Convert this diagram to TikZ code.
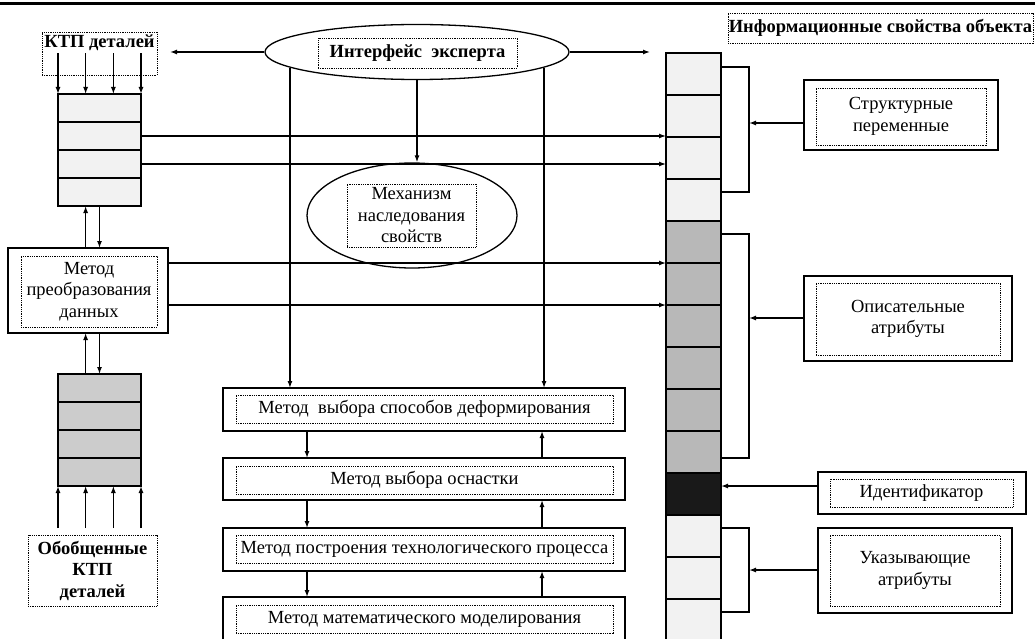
\documentclass[tikz,border=0pt]{standalone}
\usepackage{fontspec}
\setmainfont{Liberation Serif}
\usetikzlibrary{shapes.geometric,arrows.meta}

\definecolor{light}{gray}{0.95}
\definecolor{midgray}{gray}{0.80}
\definecolor{darkgray}{gray}{0.72}

\begin{document}
\begin{tikzpicture}[x=1pt,y=-1pt,line width=1.3pt,>={Latex[length=7pt,width=5pt]}]
\tikzstyle{every node}=[font=\fontsize{18.5}{21.5}\selectfont]
\tikzstyle{bold}=[font=\fontsize{18.5}{21.5}\selectfont\bfseries]
\tikzstyle{frame}=[draw, line width=1.6pt, inner sep=0pt, outer sep=0pt]
\tikzstyle{dots}=[draw, line width=0.9pt, dash pattern=on 0.9pt off 0.9pt, align=center, inner sep=0pt, outer sep=0pt]
\tikzstyle{oval}=[draw, ellipse, line width=1.3pt, inner sep=0pt]
\tikzstyle{cell}=[draw, inner sep=0pt, outer sep=0pt, minimum width=83pt, minimum height=28pt]
\tikzstyle{slot}=[draw, inner sep=0pt, outer sep=0pt, minimum width=55pt, minimum height=42pt]

\useasboundingbox (0,0) rectangle (1035,639);
\clip (0,0) rectangle (1035,639);
\fill (0,2) rectangle (1035,5.5);

% left column
\node[dots, minimum width=115pt, minimum height=43pt] (ktpf) at (99.5,53.5) {};
\node[bold, inner sep=0pt] (ktp) at (99.5,43) {КТП деталей};

\node[cell, fill=light] (a1) at (99.5,108) {};
\node[cell, fill=light] (a2) at (99.5,136) {};
\node[cell, fill=light] (a3) at (99.5,164) {};
\node[cell, fill=light] (a4) at (99.5,192) {};

\node[frame, minimum width=160pt, minimum height=85pt] (pm) at (88,290.5) {};
\node[dots, minimum width=136pt, minimum height=71pt] (pmt) at (89,291.5) {Метод\\преобразования\\данных};

\node[cell, fill=midgray] (b1) at (99.5,388) {};
\node[cell, fill=midgray] (b2) at (99.5,416) {};
\node[cell, fill=midgray] (b3) at (99.5,444) {};
\node[cell, fill=midgray] (b4) at (99.5,472) {};

\node[dots, bold, minimum width=129pt, minimum height=71pt] (gen) at (92.5,570.5) {Обобщенные\\КТП\\деталей};

% middle column
\node[oval, minimum width=304pt, minimum height=55pt] (ie) at (417,52) {};
\node[dots, bold, minimum width=199pt, minimum height=30pt] (iet) at (417.5,53) {Интерфейс\ \ эксперта};

\node[oval, minimum width=210pt, minimum height=105pt] (me) at (412,215.5) {};
\node[dots, minimum width=129pt, minimum height=63pt] (met) at (411.5,215.5) {Механизм\\наследования\\свойств};

\node[frame, minimum width=402pt, minimum height=43pt] (m1) at (424,409.5) {};
\node[dots, minimum width=377pt, minimum height=28pt] (n1) at (424.5,409) {Метод\ \ выбора способов деформирования};
\node[frame, minimum width=402pt, minimum height=42pt] (m2) at (424,479) {};
\node[dots, minimum width=377pt, minimum height=28pt] (n2) at (424.5,480) {Метод выбора оснастки};
\node[frame, minimum width=402pt, minimum height=43pt] (m3) at (424,549.5) {};
\node[dots, minimum width=377pt, minimum height=28pt] (n3) at (424.5,549.5) {Метод построения технологического процесса};
\node[frame, minimum width=402pt, minimum height=43pt] (m4) at (424,618.5) {};
\node[dots, minimum width=377pt, minimum height=28pt] (n4) at (424.5,619.5) {Метод математического моделирования};

% object properties
\node[dots, bold, minimum width=305pt, minimum height=30pt] (ti) at (880.5,28) {Информационные свойства объекта};

\node[slot, fill=light]    (r1)  at (693.5, 74) {};
\node[slot, fill=light]    (r2)  at (693.5,116) {};
\node[slot, fill=light]    (r3)  at (693.5,158) {};
\node[slot, fill=light]    (r4)  at (693.5,200) {};
\node[slot, fill=darkgray] (r5)  at (693.5,242) {};
\node[slot, fill=darkgray] (r6)  at (693.5,284) {};
\node[slot, fill=darkgray] (r7)  at (693.5,326) {};
\node[slot, fill=darkgray] (r8)  at (693.5,368) {};
\node[slot, fill=darkgray] (r9)  at (693.5,410) {};
\node[slot, fill=darkgray] (r10) at (693.5,452) {};
\node[slot, fill=black!90] (r11) at (693.5,494) {};
\node[slot, fill=light]    (r12) at (693.5,536) {};
\node[slot, fill=light]    (r13) at (693.5,578) {};
\node[slot, fill=light]    (r14) at (693.5,620) {};
\node[slot, fill=light]    (r15) at (693.5,662) {};

\node[frame, minimum width=194pt, minimum height=70pt] (sv) at (901,115) {};
\node[dots, minimum width=170pt, minimum height=57pt] (svt) at (901,116.5) {Структурные\\переменные};
\node[frame, minimum width=208pt, minimum height=85pt] (da) at (908,318.5) {};
\node[dots, minimum width=184pt, minimum height=72pt] (dat) at (908,319) {Описательные\\атрибуты};
\node[frame, minimum width=208pt, minimum height=42pt] (id) at (922,493) {};
\node[dots, minimum width=183pt, minimum height=28pt] (idt) at (921.5,493) {Идентификатор};
\node[frame, minimum width=194pt, minimum height=85pt] (pa) at (915,570.5) {};
\node[dots, minimum width=170pt, minimum height=71pt] (pat) at (915,570.5) {Указывающие\\атрибуты};

\coordinate (xd) at (307,0);
\coordinate (xu) at (542,0);
\coordinate (bs) at (749,123);
\coordinate (bd) at (749,318);
\coordinate (bp) at (749,570);
\coordinate (bi) at (721,486);

% connectors
\foreach \i/\f in {1/0,2/0.333,3/0.667,4/1} {
  \path (a1.north west) -- coordinate[pos=\f] (t\i) (a1.north east);
  \draw[->] (t\i |- ktpf.center) -- (t\i);
  \path (b4.south west) -- coordinate[pos=\f] (u\i) (b4.south east);
  \draw[->] ([yshift=7pt]u\i |- gen.north) -- (u\i);
}
\draw[->] (t2 |- pm.north) -- (t2 |- a4.south);
\draw[->] (a4.south) -- (a4.south |- pm.north);
\draw[->] (t2 |- b1.north) -- (t2 |- pm.south);
\draw[->] (b1.north |- pm.south) -- (b1.north);

\draw[->, shorten >=13pt] (ie.west) -- (ie.west -| ktpf.east);
\draw[->, shorten >=16pt] (ie.east) -- (ie.east -| r1.west);
\draw[->] (ie.south) -- (ie.south |- me.north);
\draw[->] (ie.187) -- (ie.187 |- m1.north);
\draw[->] (ie.353) -- (ie.353 |- m1.north);

\draw[->] (a2.east) -- (a2.east -| r3.west);
\draw[->] (a3.east) -- (a3.east -| r3.west);
\draw[->] (r6.north west -| pm.east) -- (r6.north west);
\draw[->] (r7.north west -| pm.east) -- (r7.north west);

\draw[->] (m1.south -| xd) -- (m2.north -| xd);
\draw[->] (m2.south -| xd) -- (m3.north -| xd);
\draw[->] (m3.south -| xd) -- (m4.north -| xd);
\draw[->] (m2.north -| xu) -- (m1.south -| xu);
\draw[->] (m3.north -| xu) -- (m2.south -| xu);
\draw[->] (m4.north -| xu) -- (m3.south -| xu);

\draw (721,67) -- (749,67) -- (749,192) -- (721,192);
\draw (721,234) -- (749,234) -- (749,458) -- (721,458);
\draw (721,528) -- (749,528) -- (749,612) -- (721,612);
\draw[->] (bs -| sv.west) -- (bs);
\draw[->] (bd -| da.west) -- (bd);
\draw[->] (bp -| pa.west) -- (bp);
\draw[->] (bi -| id.west) -- (bi);
\end{tikzpicture}
\end{document}
